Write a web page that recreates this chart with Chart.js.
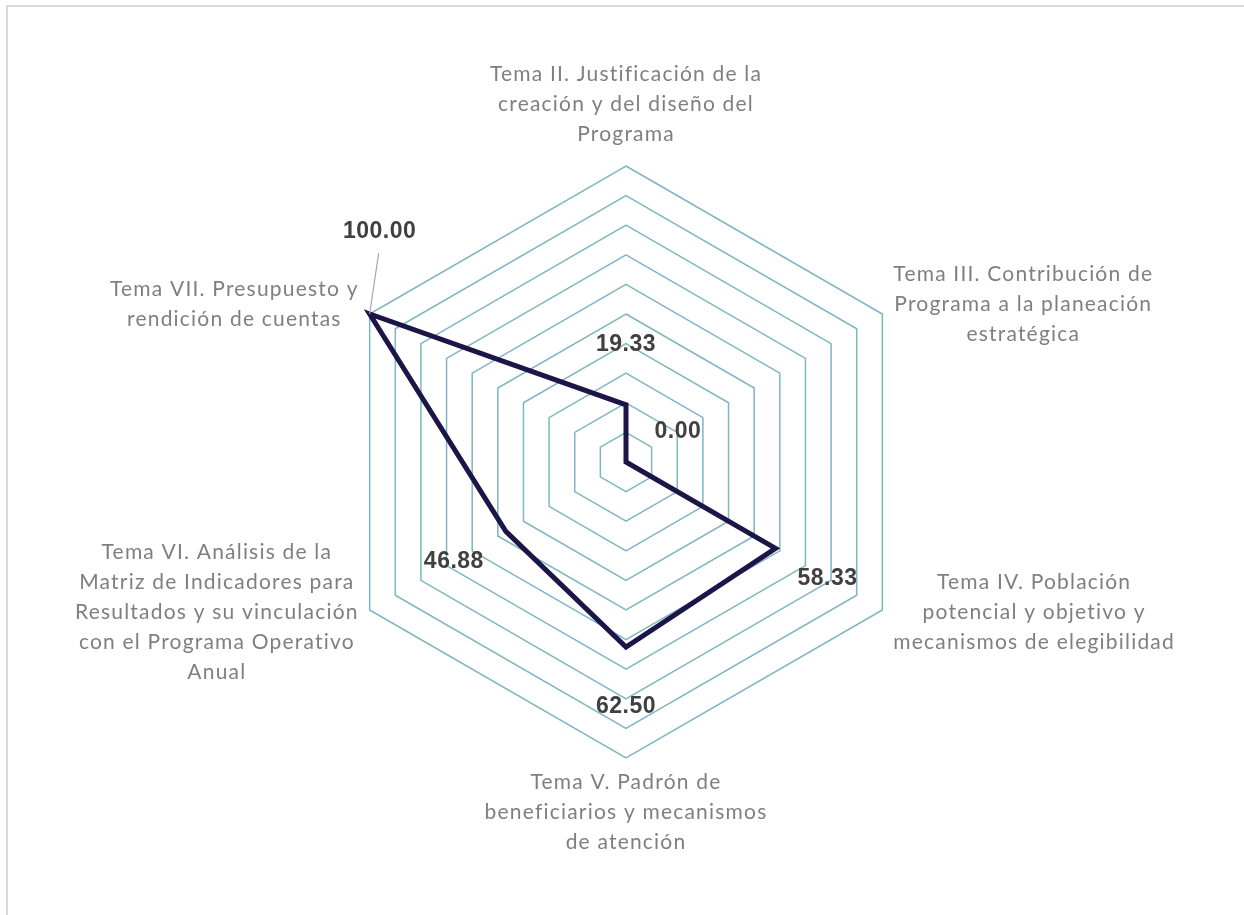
<!DOCTYPE html>
<html><head><meta charset="utf-8">
<script src="https://cdn.jsdelivr.net/npm/chart.js@4"></script>
<style>
html,body{margin:0;padding:0;background:#fff;overflow:hidden;}
#frame{position:absolute;left:6px;top:5px;width:1400px;height:1000px;border-left:2px solid #d9d9d9;border-top:2px solid #d9d9d9;}
#wrap{position:absolute;left:0;top:0;width:1244px;height:915px;}
</style></head><body>
<div id="frame"></div>
<div id="wrap"><canvas id="c" width="1244" height="915"></canvas></div>
<script>
const categories = [
  ["Tema II. Justificación de la", "creación y del diseño del", "Programa"],
  ["Tema III. Contribución de", "Programa a la planeación", "estratégica"],
  ["Tema IV. Población", "potencial y objetivo y", "mecanismos de elegibilidad"],
  ["Tema V. Padrón de", "beneficiarios y mecanismos", "de atención"],
  ["Tema VI. Análisis de la", "Matriz de Indicadores para", "Resultados y su vinculación", "con el Programa Operativo", "Anual"],
  ["Tema VII. Presupuesto y", "rendición de cuentas"]
];
const values = [19.33, 0.00, 58.33, 62.50, 46.88, 100.00];
const valueLabels = ["19.33", "0.00", "58.33", "62.50", "46.88", "100.00"];
const scaleMin = 0;
const scaleMax = 100;
const scaleStep = 10;
// label displacement (px) for labels moved away from default placement, with leader line
const movedLabels = {5: [10, -82]};

const labelFont = '21px Lato';
const valueFont = 'bold 23px "Liberation Sans"';

const labelPlugin = {
  id: 'labels',
  afterDatasetsDraw(chart) {
    const ctx = chart.ctx;
    const s = chart.scales.r;
    ctx.save();
    // category labels
    ctx.font = labelFont;
    ctx.letterSpacing = '1.2px';
    ctx.fillStyle = '#7f7f7f';
    ctx.textAlign = 'center';
    ctx.textBaseline = 'middle';
    const lh = 30;
    categories.forEach((lines, i) => {
      const p = s.getPointPosition(i, s.drawingArea);
      const bw = Math.max(...lines.map(l => ctx.measureText(l).width));
      const n = lines.length;
      let cx, cy;
      if (Math.abs(p.x - s.xCenter) < 1) {
        cx = p.x;
        if (p.y < s.yCenter) cy = p.y - 32 - (n - 1) * lh / 2;
        else cy = p.y + 24 + (n - 1) * lh / 2;
      } else {
        cx = p.x > s.xCenter ? p.x + 11 + bw / 2 : p.x - 11 - bw / 2;
        cy = p.y + (p.y < s.yCenter ? -10 : 2);
      }
      lines.forEach((l, k) => {
        ctx.fillText(l, cx, cy + (k - (n - 1) / 2) * lh);
      });
    });
    // value labels
    ctx.font = valueFont;
    ctx.letterSpacing = '0.5px';
    ctx.fillStyle = '#404040';
    values.forEach((v, i) => {
      const pt = s.getPointPosition(i, s.getDistanceFromCenterForValue(v));
      let lx, ly;
      if (movedLabels[i]) {
        lx = pt.x + movedLabels[i][0];
        ly = pt.y + movedLabels[i][1];
        ctx.strokeStyle = '#a6a6a6';
        ctx.lineWidth = 1.2;
        ctx.beginPath();
        ctx.moveTo(lx - 1, ly + 21);
        ctx.lineTo(pt.x, pt.y);
        ctx.stroke();
      } else {
        const q = s.getPointPosition(i, s.getDistanceFromCenterForValue(v) + 60);
        lx = q.x; ly = q.y;
      }
      ctx.fillText(valueLabels[i], lx, ly);
    });
    ctx.restore();
  }
};

new Chart(document.getElementById('c'), {
  type: 'radar',
  data: {
    labels: categories,
    datasets: [{
      data: values,
      borderColor: '#1c1548',
      borderWidth: 5,
      borderJoinStyle: 'miter',
      fill: false,
      pointRadius: 0,
      pointHoverRadius: 0,
      tension: 0
    }]
  },
  options: {
    responsive: false,
    animation: false,
    devicePixelRatio: 1,
    layout: { padding: { left: 330, right: 322, top: 166, bottom: 157 } },
    plugins: { legend: { display: false }, tooltip: { enabled: false } },
    scales: {
      r: {
        min: scaleMin,
        max: scaleMax,
        ticks: { display: false, stepSize: scaleStep },
        grid: { color: '#7eb6c2', lineWidth: 1.5 },
        angleLines: { display: false },
        pointLabels: { display: false }
      }
    }
  },
  plugins: [labelPlugin]
});
</script>
</body></html>
